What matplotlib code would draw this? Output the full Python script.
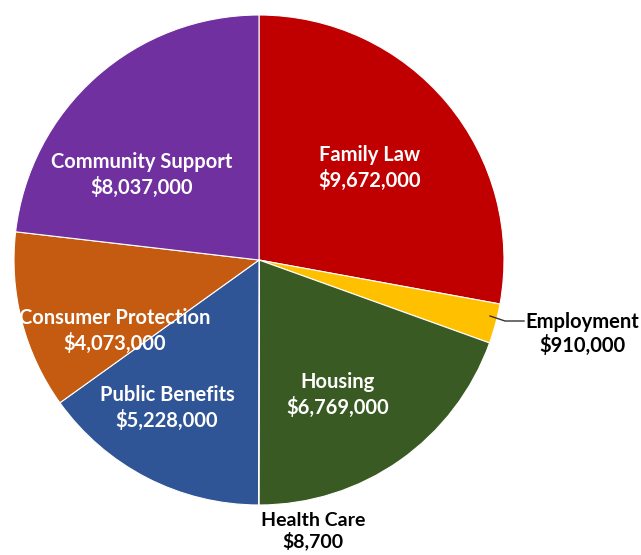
import matplotlib.pyplot as plt

categories = ["Family Law", "Employment", "Housing", "Health Care",
              "Public Benefits", "Consumer Protection", "Community Support"]
amounts = [9672000, 910000, 6769000, 8700, 5228000, 4073000, 8037000]
colors = ['#c00000', '#ffc000', '#3a5a23', '#3a5a23', '#2f5597', '#c55a11', '#7030a0']

# label anchor points in pixel coords (x from left, y from top)
inside_pos = {"Family Law": (370, 168), "Housing": (338, 395),
              "Public Benefits": (167, 408), "Consumer Protection": (115, 331),
              "Community Support": (142, 175)}
outside_pos = {"Employment": (582, 334), "Health Care": (313, 531)}

W, H = 641, 555
fig = plt.figure(figsize=(W / 100, H / 100), dpi=100)
ax = fig.add_axes([0, 0, 1, 1])

wedges, _ = ax.pie(amounts, colors=colors, startangle=90, counterclock=False,
                   center=(259, H - 260), radius=245,
                   wedgeprops=dict(edgecolor='white', linewidth=0.8))

font = dict(family='Lato', weight='bold', fontsize=14.5, ha='center', va='center',
            linespacing=1.3)
for name, amt in zip(categories, amounts):
    label = f"{name}\n${amt:,}"
    if name in inside_pos:
        x, y = inside_pos[name]
        ax.text(x, H - y, label, color='white', **font)
    else:
        x, y = outside_pos[name]
        fs = 14 if name == "Health Care" else 14.5
        ax.text(x, H - y, label, color='black', **{**font, 'fontsize': fs,
                                                    'linespacing': 1.2})

# leader line for Employment
ax.plot([490, 505, 524], [H - 316, H - 321, H - 321], color='#333333', lw=1)

ax.set_xlim(0, W)
ax.set_ylim(0, H)
ax.set_aspect('equal')
ax.axis('off')
fig.savefig('out.png', dpi=100)
